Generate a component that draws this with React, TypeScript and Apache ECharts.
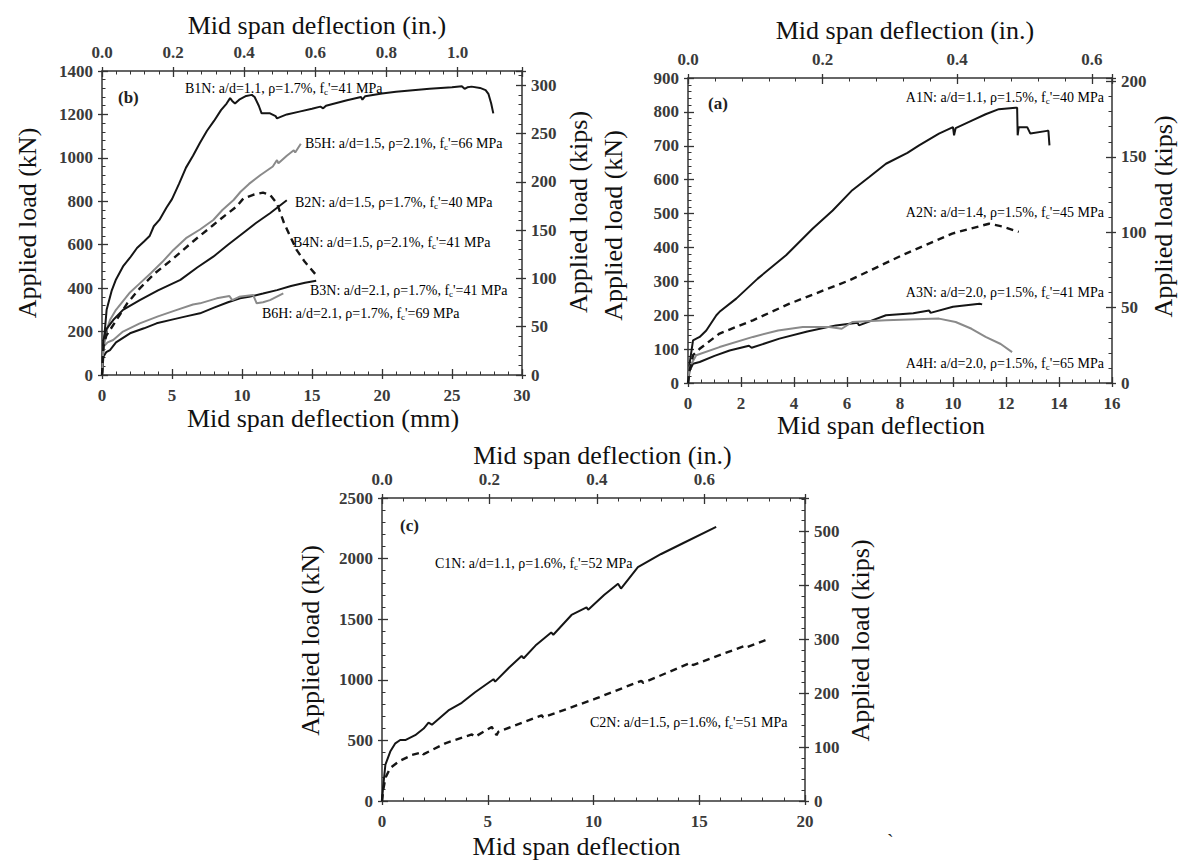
import React, { useEffect, useRef } from "react";
import * as echarts from "echarts";

type Pt = [number, number];

const KIP = 4.448222; // kN per kip
const INCH = 25.4; // mm per inch

// ---------- Panel (b) : deflection (mm), load (kN)
const B1N: Pt[] = [[0,0],[0.1,130],[0.33,300],[0.7,390],[1.0,440],[1.5,500],[2.0,540],[2.5,585],[3.0,615],[3.4,640],[3.7,685],[4.1,714],[4.6,770],[5.0,810],[5.5,880],[6.0,955],[6.5,1010],[7.0,1070],[7.5,1125],[8.0,1170],[8.5,1220],[8.9,1250],[9.15,1275],[9.3,1262],[9.5,1250],[9.8,1268],[10.3,1285],[10.7,1290],[10.9,1280],[11.2,1240],[11.4,1205],[12.0,1205],[12.4,1192],[12.5,1182],[12.8,1190],[13.2,1200],[14.1,1213],[15.0,1226],[15.6,1236],[15.8,1228],[16.0,1240],[17.5,1265],[18.5,1280],[18.6,1268],[18.8,1284],[20.0,1296],[21.0,1304],[22.0,1310],[23.4,1318],[25.0,1325],[25.7,1330],[25.9,1318],[26.1,1325],[26.4,1328],[27.0,1322],[27.4,1312],[27.6,1295],[27.8,1250],[27.95,1205]];
const B5H: Pt[] = [[0,0],[0.1,110],[0.21,161],[0.4,220],[0.57,253],[1.0,300],[1.5,340],[2.0,380],[2.7,422],[3.5,470],[4.3,520],[5.1,576],[6.0,630],[7.0,670],[7.95,714],[8.6,760],[9.4,806],[9.9,844],[10.5,880],[11.3,920],[12.2,960],[12.5,990],[12.6,975],[13.2,1010],[13.7,1035],[13.8,1025],[14.2,1065]];
const B2N: Pt[] = [[0,0],[0.1,130],[0.3,180],[0.57,207],[1.0,250],[1.8,330],[2.7,399],[3.8,470],[5.1,537],[6.5,615],[7.95,691],[8.8,735],[9.6,775],[10.1,813],[10.8,830],[11.5,840],[12.0,830],[12.5,790],[13.0,700],[13.9,576],[14.5,520],[15.3,460]];
const B4N: Pt[] = [[0,0],[0.1,161],[0.3,210],[0.8,253],[1.5,300],[2.7,345],[4.0,390],[5.6,438],[6.8,495],[7.95,545],[9.0,600],[10.2,660],[11.0,700],[12.0,745],[12.6,775],[13.2,805]];
const B3N: Pt[] = [[0,0],[0.1,84],[0.3,105],[0.57,115],[1.0,150],[2.0,192],[3.0,215],[3.9,238],[5.0,255],[6.0,270],[7.0,284],[8.0,310],[9.0,335],[9.86,353],[10.5,360],[11.5,375],[12.5,391],[13.5,410],[14.5,425],[15.3,434]];
const B6H: Pt[] = [[0,0],[0.1,130],[0.4,150],[0.8,161],[1.5,200],[2.7,238],[4.0,270],[5.3,299],[6.5,325],[7.0,330],[8.2,353],[9.1,364],[9.3,345],[9.8,360],[10.8,368],[11.05,330],[11.5,335],[12.0,345],[12.95,376]];

// ---------- Panel (a)
const A1N: Pt[] = [[0,0],[0.06,57],[0.19,126],[0.44,136],[0.69,155],[1.07,200],[1.19,210],[1.82,249],[2.63,308],[3.7,377],[4.7,455],[5.46,509],[6.2,569],[6.84,608],[7.47,647],[8.28,679],[8.72,701],[9.47,736],[10.0,755],[10.04,731],[10.1,752],[10.73,775],[11.23,793],[11.73,808],[12.36,812],[12.42,812],[12.44,731],[12.48,755],[12.8,755],[12.92,736],[13.55,744],[13.6,744],[13.64,701]];
const A2N: Pt[] = [[0,0],[0.06,37],[0.19,82],[0.44,101],[1.19,146],[2.45,185],[3.83,234],[6.09,303],[8.22,382],[9.97,441],[11.36,470],[11.86,462],[12.48,446]];
const A3N: Pt[] = [[0,0],[0.06,37],[0.19,57],[0.44,62],[1.0,80],[1.57,96],[2.3,110],[2.4,104],[3.45,131],[4.5,152],[5.58,170],[6.4,178],[6.45,170],[7.47,200],[8.5,206],[9.1,214],[9.15,207],[10.0,225],[11.0,234],[11.1,232]];
const A4H: Pt[] = [[0,0],[0.06,47],[0.31,82],[1.19,106],[2.45,136],[3.4,155],[4.33,165],[5.33,165],[5.8,160],[6.2,180],[7.47,185],[9.47,190],[10.1,180],[10.7,160],[11.23,136],[11.8,115],[12.23,91]];

// ---------- Panel (c)
const C1N: Pt[] = [[0,0],[0.05,109],[0.16,299],[0.39,408],[0.63,476],[0.86,503],[1.1,503],[1.57,543],[1.97,598],[2.2,647],[2.36,630],[3.14,747],[3.77,810],[4.4,897],[5.27,1005],[5.35,985],[6.0,1100],[6.6,1196],[6.7,1178],[7.3,1290],[8.0,1391],[8.1,1372],[8.96,1535],[9.67,1598],[9.75,1578],[10.5,1700],[11.16,1793],[11.3,1753],[12.1,1929],[13.2,2038],[14.3,2133],[15.8,2261]];
const C2N: Pt[] = [[0,0],[0.05,82],[0.16,190],[0.39,272],[0.79,326],[1.42,380],[1.89,402],[1.95,385],[2.99,476],[4.25,549],[4.4,530],[5.19,611],[5.42,543],[5.5,571],[7.55,707],[7.62,690],[10.06,842],[12.26,992],[12.35,975],[14.6,1141],[14.7,1122],[17.1,1277],[17.2,1265],[18.2,1332]];

// Axis ranges (kN / mm primary), tick steps
const PANEL_B = { mmMax: 30, mmStep: 5, kNMax: 1400, kNStep: 200, inStep: 0.2, kipStep: 50 };
const PANEL_A = { mmMax: 16, mmStep: 2, kNMax: 900, kNStep: 100, inStep: 0.2, kipStep: 50 };
const PANEL_C = { mmMax: 20, mmStep: 5, kNMax: 2500, kNStep: 500, inStep: 0.2, kipStep: 100 };

// Annotation texts
const LABELS_B = [
  ["B1N: a/d=1.1, ρ=1.7%, ", "=41 MPa"],
  ["B5H: a/d=1.5, ρ=2.1%, ", "=66 MPa"],
  ["B2N: a/d=1.5, ρ=1.7%, ", "=40 MPa"],
  ["B4N: a/d=1.5, ρ=2.1%, ", "=41 MPa"],
  ["B3N: a/d=2.1, ρ=1.7%, ", "=41 MPa"],
  ["B6H: a/d=2.1, ρ=1.7%, ", "=69 MPa"],
];
const LABELS_A = [
  ["A1N: a/d=1.1, ρ=1.5%, ", "=40 MPa"],
  ["A2N: a/d=1.4, ρ=1.5%, ", "=45 MPa"],
  ["A3N: a/d=2.0, ρ=1.5%, ", "=41 MPa"],
  ["A4H: a/d=2.0, ρ=1.5%, ", "=65 MPa"],
];
const LABELS_C = [
  ["C1N: a/d=1.1, ρ=1.6%, ", "=52 MPa"],
  ["C2N: a/d=1.5, ρ=1.6%, ", "=51 MPa"],
];

const FONT = "Liberation Serif";
const AX = "#333";
const BLACK = "#151515";
const GRAY = "#8a8a8a";

function axisBase(o: any) {
  return {
    type: "value",
    gridIndex: o.grid,
    position: o.position,
    min: 0,
    max: o.max,
    interval: o.interval,
    axisLine: { show: true, onZero: false, lineStyle: { color: AX, width: 1.5 } },
    axisTick: { show: true, inside: true, length: 6, lineStyle: { color: AX, width: 1.3 } },
    minorTick: { show: true, splitNumber: o.minor, length: 3.5, lineStyle: { color: AX, width: 1 } },
    splitLine: { show: false },
    minorSplitLine: { show: false },
    axisLabel: {
      fontFamily: FONT,
      fontSize: 17,
      fontWeight: "bold",
      color: "#3a3a3a",
      margin: o.margin ?? 9,
      formatter: o.formatter ?? ((v: number) => String(Math.round(v))),
      showMaxLabel: o.showMax ?? true,
    },
    name: o.name,
    nameLocation: "middle",
    nameGap: o.nameGap,
    nameRotate: o.rotate,
    nameTextStyle: { fontFamily: FONT, fontSize: 26, fontWeight: "normal", color: "#111", padding: o.pad ?? 0 },
  };
}

// outward half of the major ticks (so major ticks cross the axis line)
function twin(o: any) {
  return {
    type: "value",
    gridIndex: o.grid,
    position: o.position,
    min: 0,
    max: o.max,
    interval: o.interval,
    axisLine: { show: false, onZero: false },
    axisTick: { show: true, inside: false, length: 4, lineStyle: { color: AX, width: 1.3 } },
    minorTick: { show: false },
    splitLine: { show: false },
    axisLabel: { show: false },
    silent: true,
  };
}

const f1 = (v: number) => v.toFixed(1);

function line(data: Pt[], x: number, y: number, color: string, dashed = false) {
  return {
    type: "line",
    xAxisIndex: x,
    yAxisIndex: y,
    data,
    showSymbol: false,
    symbol: "none",
    smooth: false,
    lineStyle: { color, width: dashed ? 2.4 : 2, type: dashed ? [7, 5] : "solid" },
    z: dashed ? 3 : 2,
  };
}

function spec(pre: string, post: string) {
  return `{t|${pre}f}{s|c}{t|'${post}}`;
}
const rich = {
  t: { fontFamily: FONT, fontSize: 14, color: "#2a2a2a", lineHeight: 16 },
  s: { fontFamily: FONT, fontSize: 9, color: "#2a2a2a", verticalAlign: "bottom", lineHeight: 10 },
};
function note(text: string, x: number, y: number, align = "left") {
  return {
    type: "text",
    x,
    y,
    z: 10,
    style: { text, rich, align, verticalAlign: "middle", textAlign: align, textVerticalAlign: "middle" },
  };
}
function tag(text: string, x: number, y: number) {
  return {
    type: "text",
    x,
    y,
    z: 10,
    style: { text, font: `bold 17px ${FONT}`, fill: "#222", verticalAlign: "middle", textVerticalAlign: "middle" },
  };
}

export default function App() {
  const ref = useRef<HTMLDivElement>(null);
  useEffect(() => {
    const chart = echarts.init(ref.current!, undefined, { renderer: "svg" });

    const xSpecs = [
      { grid: 0, position: "bottom", max: PANEL_B.mmMax, interval: PANEL_B.mmStep, minor: 5, name: "Mid span deflection (mm)", nameGap: 30, pad: [0, 0, 0, 22], margin: 12 },
      { grid: 0, position: "top", max: PANEL_B.mmMax / INCH, interval: PANEL_B.inStep, minor: 5, formatter: f1, showMax: false, name: "Mid span deflection (in.)", nameGap: 33, pad: [0, 0, 0, 10], margin: 10 },
      { grid: 1, position: "bottom", max: PANEL_A.mmMax, interval: PANEL_A.mmStep, minor: 4, name: "Mid span deflection", nameGap: 24, pad: [0, 38, 0, 0], margin: 12 },
      { grid: 1, position: "top", max: PANEL_A.mmMax / INCH, interval: PANEL_A.inStep, minor: 5, formatter: f1, showMax: false, name: "Mid span deflection (in.)", nameGap: 35, pad: [0, 0, 0, 10], margin: 10 },
      { grid: 2, position: "bottom", max: PANEL_C.mmMax, interval: PANEL_C.mmStep, minor: 5, name: "Mid span deflection", nameGap: 32, pad: [0, 34, 0, 0], margin: 12 },
      { grid: 2, position: "top", max: PANEL_C.mmMax / INCH, interval: PANEL_C.inStep, minor: 5, formatter: f1, showMax: false, name: "Mid span deflection (in.)", nameGap: 30, pad: [0, 0, 0, 18], margin: 10 },
    ];
    const ySpecs = [
      { grid: 0, position: "left", max: PANEL_B.kNMax, interval: PANEL_B.kNStep, minor: 5, name: "Applied load (kN)", nameGap: 62, rotate: 90 },
      { grid: 0, position: "right", max: PANEL_B.kNMax / KIP, interval: PANEL_B.kipStep, minor: 5, showMax: false, name: "Applied load (kips)", nameGap: 43, rotate: 90, pad: [0, 0, 0, 22] },
      { grid: 1, position: "left", max: PANEL_A.kNMax, interval: PANEL_A.kNStep, minor: 5, name: "Applied load (kN)", nameGap: 62, rotate: 90, pad: [0, 0, 0, 10] },
      { grid: 1, position: "right", max: PANEL_A.kNMax / KIP, interval: PANEL_A.kipStep, minor: 5, showMax: false, name: "Applied load (kips)", nameGap: 38, rotate: 90, pad: [0, 0, 0, 28] },
      { grid: 2, position: "left", max: PANEL_C.kNMax, interval: PANEL_C.kNStep, minor: 5, name: "Applied load (kN)", nameGap: 59, rotate: 90, pad: [0, 0, 0, 18] },
      { grid: 2, position: "right", max: PANEL_C.kNMax / KIP, interval: PANEL_C.kipStep, minor: 5, showMax: false, name: "Applied load (kips)", nameGap: 42, rotate: 90, pad: [0, 0, 0, 18] },
    ];

    const option: any = {
      animation: false,
      backgroundColor: "#fff",
      textStyle: { fontFamily: FONT },
      grid: [
        { left: 102, top: 71, width: 420, height: 304 },
        { left: 688, top: 78, width: 424, height: 305 },
        { left: 382, top: 498, width: 423, height: 304 },
      ],
      xAxis: [...xSpecs.map(axisBase), ...xSpecs.map(twin)],
      yAxis: [...ySpecs.map(axisBase), ...ySpecs.map(twin)],
      series: [
        line(B1N, 0, 0, BLACK),
        line(B5H, 0, 0, GRAY),
        line(B2N, 0, 0, BLACK, true),
        line(B4N, 0, 0, BLACK),
        line(B3N, 0, 0, BLACK),
        line(B6H, 0, 0, GRAY),
        line(A1N, 2, 2, BLACK),
        line(A2N, 2, 2, BLACK, true),
        line(A3N, 2, 2, BLACK),
        line(A4H, 2, 2, GRAY),
        line(C1N, 4, 4, BLACK),
        line(C2N, 4, 4, BLACK, true),
      ],
      graphic: [
        tag("(b)", 118, 97),
        note(spec(LABELS_B[0][0], LABELS_B[0][1]), 185, 88),
        note(spec(LABELS_B[1][0], LABELS_B[1][1]), 305, 143),
        note(spec(LABELS_B[2][0], LABELS_B[2][1]), 295, 202),
        note(spec(LABELS_B[3][0], LABELS_B[3][1]), 293, 242),
        note(spec(LABELS_B[4][0], LABELS_B[4][1]), 310, 290),
        note(spec(LABELS_B[5][0], LABELS_B[5][1]), 262, 313),
        tag("(a)", 708, 103),
        note(spec(LABELS_A[0][0], LABELS_A[0][1]), 1104, 97, "right"),
        note(spec(LABELS_A[1][0], LABELS_A[1][1]), 1104, 212, "right"),
        note(spec(LABELS_A[2][0], LABELS_A[2][1]), 1104, 292, "right"),
        note(spec(LABELS_A[3][0], LABELS_A[3][1]), 1104, 363, "right"),
        tag("(c)", 400, 525),
        note(spec(LABELS_C[0][0], LABELS_C[0][1]), 435, 563),
        note(spec(LABELS_C[1][0], LABELS_C[1][1]), 590, 722),
        {
          type: "text",
          x: 887,
          y: 832,
          style: { text: "`", font: `20px ${FONT}`, fill: "#222" },
        },
      ],
    };
    chart.setOption(option);
    return () => chart.dispose();
  }, []);
  return (
    <div
      ref={ref}
      style={{ position: "absolute", left: 0, top: 0, width: 1178, height: 860, background: "#fff" }}
    />
  );
}
